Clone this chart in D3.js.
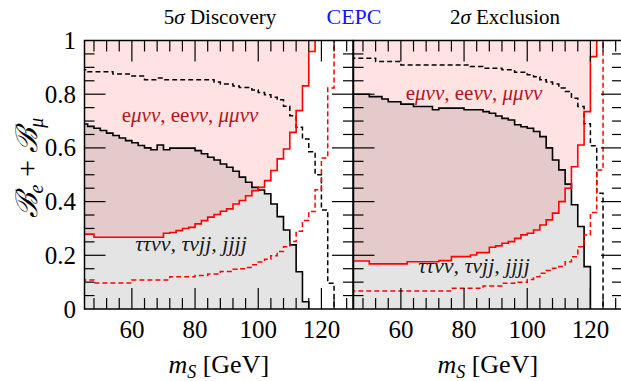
<!DOCTYPE html>
<html>
<head>
<meta charset="utf-8">
<script src="https://cdn.jsdelivr.net/npm/d3@7"></script>
<style>
  body { margin: 0; background: #fff; }
  text { font-family: "Liberation Serif", "Times New Roman", serif; }
</style>
</head>
<body>
<script>
// left edges of the 2 GeV bins in m_S
var binEdges = [44,46,48,50,52,54,56,58,60,62,64,66,68,70,72,74,76,78,80,82,84,86,88,90,92,94,96,98,100,102,104,106,108,110,112,114,116,118,120,122,124,126,128];

// 5 sigma discovery panel
var discPinkLow = [.279,.279,.267,.267,.267,.267,.267,.267,.267,.267,.267,.267,.267,.282,.285,.292,.300,.304,.317,.329,.342,.352,.364,.373,.391,.404,.422,.441,.453,.478,.516,.559,.596,.658,.739,.831,.959,1,1,1,1,1,1];
var discGrayTop = [.689,.680,.673,.665,.655,.646,.637,.627,.619,.609,.600,.593,.611,.593,.599,.599,.599,.599,.590,.578,.565,.555,.540,.528,.513,.491,.472,.453,.443,.429,.391,.344,.294,.239,.139,.027,0,0,0,0,0,0,0];
var discBlackDash = [.891,.884,.884,.884,.884,.875,.875,.875,.868,.868,.854,.854,.860,.854,.854,.854,.854,.854,.854,.854,.854,.845,.838,.838,.831,.825,.825,.816,.806,.798,.789,.779,.755,.720,.677,.633,.586,.500,.369,.096,0,0,0];
var discRedDash = [.108,.108,.097,.097,.097,.097,.097,.097,.108,.108,.108,.108,.108,.108,.120,.120,.120,.120,.125,.125,.130,.130,.140,.140,.148,.150,.155,.165,.175,.185,.198,.214,.232,.251,.290,.330,.363,.444,.562,.823,1,1,1];

// 2 sigma exclusion panel
var exclPinkLow = [.179,.179,.179,.168,.168,.168,.168,.168,.168,.176,.176,.176,.176,.176,.180,.180,.195,.195,.195,.201,.210,.210,.230,.235,.245,.251,.263,.276,.282,.294,.313,.332,.357,.400,.450,.530,.611,.735,.940,1,1,1,1];
var exclGrayTop = [.800,.800,.800,.791,.791,.782,.772,.772,.763,.763,.754,.754,.754,.742,.748,.748,.748,.748,.742,.742,.742,.735,.729,.719,.710,.704,.686,.679,.673,.661,.642,.600,.555,.518,.465,.388,.307,.158,0,0,0,0,0];
var exclBlackDash = [.934,.934,.934,.934,.922,.922,.922,.922,.909,.909,.909,.909,.909,.909,.909,.909,.909,.909,.909,.903,.903,.897,.897,.897,.891,.891,.882,.882,.872,.865,.854,.845,.838,.823,.810,.785,.754,.690,.608,.431,0,0,0];
var exclRedDash = [.067,.067,.067,.067,.067,.067,.067,.067,.067,.067,.067,.067,.067,.067,.067,.067,.077,.077,.077,.077,.077,.086,.086,.086,.096,.096,.100,.100,.110,.120,.133,.143,.152,.158,.176,.195,.232,.276,.359,.518,1,1,1];

var xTickLabels = [60, 80, 100, 120];
var yTickLabels = [0, 0.2, 0.4, 0.6, 0.8, 1];

var width = 621, height = 381;
var plotTop = 40.5, plotBottom = 309;
var serif = "Liberation Serif, Times New Roman, serif";

var svg = d3.select("body").append("svg")
    .attr("width", width)
    .attr("height", height);

svg.append("rect").attr("width", width).attr("height", height).attr("fill", "#fff");

var y = d3.scaleLinear().domain([0, 1]).range([plotBottom, plotTop]);

var panels = [
  {left: 84.5, right: 353, title: "Discovery", sig: "5", pink: discPinkLow, gray: discGrayTop, bdash: discBlackDash, rdash: discRedDash,
   upper: [190, 122], lower: [191, 251]},
  {left: 353.5, right: 622, title: "Exclusion", sig: "2", pink: exclPinkLow, gray: exclGrayTop, bdash: exclBlackDash, rdash: exclRedDash,
   upper: [474, 100], lower: [474, 273]}
];

function stepPts(vals, stopAt) {
  var pts = [];
  for (var i = 0; i < vals.length; i++) {
    pts.push([binEdges[i], vals[i]]);
    if (stopAt !== undefined && vals[i] === stopAt) return pts;
  }
  pts.push([130, vals[vals.length - 1]]);
  return pts;
}

panels.forEach(function(p, k) {
  var x = d3.scaleLinear().domain([45, 130]).range([p.left, p.right]);
  var g = svg.append("g");

  var clipId = "clip" + k;
  svg.append("clipPath").attr("id", clipId)
    .append("rect")
    .attr("x", p.left).attr("y", plotTop)
    .attr("width", p.right - p.left).attr("height", plotBottom - plotTop);

  var body = g.append("g").attr("clip-path", "url(#" + clipId + ")");

  // pink region above the red solid line
  var pinkArea = d3.area()
    .x(function(d) { return x(d[0]); })
    .y0(function(d) { return y(d[1]); })
    .y1(y(1))
    .curve(d3.curveStepAfter);
  body.append("path")
    .attr("d", pinkArea(stepPts(p.pink)))
    .attr("fill", "#ffe2e2");

  // gray region below the black solid line
  var grayArea = d3.area()
    .x(function(d) { return x(d[0]); })
    .y0(y(0))
    .y1(function(d) { return y(d[1]); })
    .curve(d3.curveStepAfter);
  body.append("path")
    .attr("d", grayArea(stepPts(p.gray)))
    .attr("fill", "#e4e4e4")
    .style("mix-blend-mode", "multiply");

  // ticks
  var xMinor = d3.range(48, 130, 4);
  var yMinor = d3.range(0.05, 1, 0.05);
  var tk = g.append("g").attr("stroke", "#000").attr("stroke-width", 1.2);
  xMinor.forEach(function(v) {
    var len = (v % 20 === 0) ? 21 : 11;
    tk.append("line").attr("x1", x(v)).attr("x2", x(v)).attr("y1", plotBottom).attr("y2", plotBottom - len);
    tk.append("line").attr("x1", x(v)).attr("x2", x(v)).attr("y1", plotTop).attr("y2", plotTop + len);
  });
  yMinor.forEach(function(v) {
    var major = Math.abs(v * 5 - Math.round(v * 5)) < 1e-6;
    var len = major ? 21 : 10;
    tk.append("line").attr("x1", p.left).attr("x2", p.left + len).attr("y1", y(v)).attr("y2", y(v));
    tk.append("line").attr("x1", p.right).attr("x2", p.right - len).attr("y1", y(v)).attr("y2", y(v));
  });

  var line = d3.line()
    .x(function(d) { return x(d[0]); })
    .y(function(d) { return y(d[1]); })
    .curve(d3.curveStepAfter);

  body.append("path").attr("d", line(stepPts(p.gray, 0)))
    .attr("fill", "none").attr("stroke", "#000").attr("stroke-width", 1.6);
  body.append("path").attr("d", line(stepPts(p.bdash, 0)))
    .attr("fill", "none").attr("stroke", "#000").attr("stroke-width", 1.5)
    .attr("stroke-dasharray", "5,3");
  body.append("path").attr("d", line(stepPts(p.pink, 1)))
    .attr("fill", "none").attr("stroke", "#ff0000").attr("stroke-width", 1.6);
  body.append("path").attr("d", line(stepPts(p.rdash, 1)))
    .attr("fill", "none").attr("stroke", "#ff0000").attr("stroke-width", 1.5)
    .attr("stroke-dasharray", "5,3");

  // frame
  g.append("rect")
    .attr("x", p.left).attr("y", plotTop)
    .attr("width", p.right - p.left).attr("height", plotBottom - plotTop)
    .attr("fill", "none").attr("stroke", "#000").attr("stroke-width", 1.5);

  // x tick labels
  g.selectAll(".xl").data(xTickLabels).enter().append("text")
    .attr("x", function(d) { return x(d); })
    .attr("y", 338)
    .attr("text-anchor", "middle")
    .attr("font-family", serif)
    .attr("font-size", 25)
    .text(function(d) { return d; });

  // x axis title
  var xt = g.append("text")
    .attr("x", (p.left + p.right) / 2)
    .attr("y", 373)
    .attr("text-anchor", "middle")
    .attr("font-family", serif)
    .attr("font-size", 26);
  xt.append("tspan").attr("font-style", "italic").text("m");
  xt.append("tspan").attr("font-style", "italic").attr("font-size", 18).attr("dy", 5).text("S");
  xt.append("tspan").attr("dy", -5).text(" [GeV]");

  // panel title
  var tt = g.append("text")
    .attr("x", k === 0 ? 220 : 505)
    .attr("y", 24)
    .attr("text-anchor", "middle")
    .attr("font-family", serif)
    .attr("font-size", 21);
  tt.append("tspan").text(p.sig);
  tt.append("tspan").attr("font-style", "italic").text("σ");
  tt.append("tspan").text(" " + p.title);

  // region labels
  var ul = g.append("text")
    .attr("x", p.upper[0]).attr("y", p.upper[1])
    .attr("text-anchor", "middle")
    .attr("font-family", serif)
    .attr("font-size", 21)
    .attr("fill", "#b4141e");
  ul.append("tspan").text("e");
  ul.append("tspan").attr("font-style", "italic").text("μνν");
  ul.append("tspan").text(", ee");
  ul.append("tspan").attr("font-style", "italic").text("νν");
  ul.append("tspan").text(", ");
  ul.append("tspan").attr("font-style", "italic").text("μμνν");

  g.append("text")
    .attr("x", p.lower[0]).attr("y", p.lower[1])
    .attr("text-anchor", "middle")
    .attr("font-family", serif)
    .attr("font-size", 22)
    .attr("font-style", "italic")
    .attr("fill", "#1a1a1a")
    .text("ττνν, τνjj, jjjj");
});

// y tick labels
svg.selectAll(".yl").data(yTickLabels).enter().append("text")
  .attr("x", 76)
  .attr("y", function(d) { return y(d) + 8.5; })
  .attr("text-anchor", "end")
  .attr("font-family", serif)
  .attr("font-size", 25)
  .text(function(d) { return d; });

// y axis title
var yt = svg.append("text")
  .attr("transform", "translate(37,168) rotate(-90)")
  .attr("text-anchor", "middle")
  .attr("font-family", serif)
  .attr("font-size", 30);
yt.append("tspan").attr("font-family", "DejaVu Serif").attr("font-style", "italic").text("ℬ");
yt.append("tspan").attr("font-style", "italic").attr("font-size", 20).attr("dy", 6).text("e");
yt.append("tspan").attr("dy", -6).text(" + ");
yt.append("tspan").attr("font-family", "DejaVu Serif").attr("font-style", "italic").text("ℬ");
yt.append("tspan").attr("font-style", "italic").attr("font-size", 20).attr("dy", 6).text("μ");

svg.append("text")
  .attr("x", 354).attr("y", 24)
  .attr("text-anchor", "middle")
  .attr("font-family", serif)
  .attr("font-size", 22)
  .attr("fill", "#1414ff")
  .text("CEPC");
</script>
</body>
</html>
